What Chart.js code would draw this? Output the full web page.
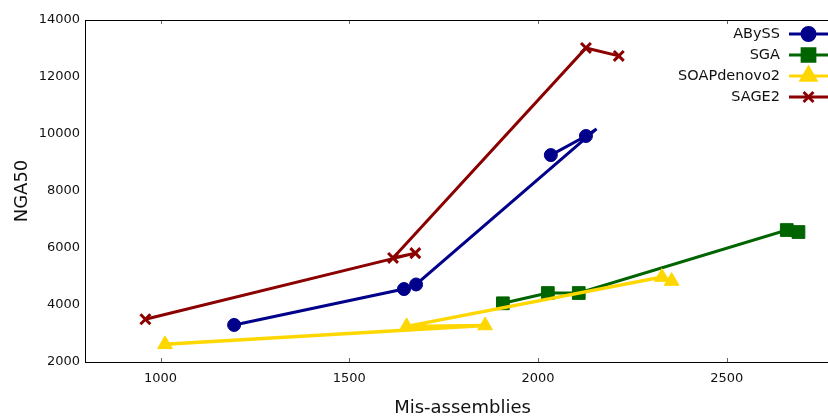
<!DOCTYPE html>
<html>
<head>
<meta charset="utf-8">
<script src="https://cdn.jsdelivr.net/npm/chart.js@4/dist/chart.umd.min.js"></script>
<style>
  body { margin: 0; overflow: hidden; background: #fff; }
  #wrap { width: 840px; height: 420px; }
  #myChart { width: 840px; height: 420px; }
</style>
</head>
<body>
<div id="wrap"><canvas id="myChart" width="840" height="420"></canvas></div>
<script>
// data (x = mis-assemblies, y = NGA50), in plotting order
var seriesNames = ['ABySS', 'SGA', 'SOAPdenovo2', 'SAGE2'];
var abyssX = [1195, 1645, 1677, 2155, 2127, 2034];
var abyssY = [3300, 4560, 4720, 10180, 9930, 9260];
var sgaX = [1907, 2026, 2108, 2659, 2690];
var sgaY = [4060, 4420, 4420, 6630, 6560];
var soapX = [1012, 1860, 1652, 2328, 2354];
var soapY = [2620, 3280, 3250, 4980, 4840];
var sage2X = [960, 1675, 1616, 2127, 2214];
var sage2Y = [3500, 5820, 5650, 13020, 12740];
var xTicks = [1000, 1500, 2000, 2500];
var yTicks = [2000, 4000, 6000, 8000, 10000, 12000, 14000];

var FONT = 'DejaVu Sans';

function pts(xs, ys) {
  return xs.map(function (x, i) { return { x: x, y: ys[i] }; });
}

// matplotlib-style frame with inward tick marks (right side falls past the window)
var framePlugin = {
  id: 'frame',
  afterDatasetsDraw: function (chart) {
    var ctx = chart.ctx, a = chart.chartArea;
    var xs = chart.scales.x;
    ctx.save();
    ctx.strokeStyle = '#666';
    ctx.lineWidth = 1;
    xTicks.forEach(function (v) {
      var px = Math.round(xs.getPixelForValue(v)) + 0.5;
      ctx.beginPath();
      ctx.moveTo(px, a.bottom); ctx.lineTo(px, a.bottom - 4);
      ctx.moveTo(px, a.top); ctx.lineTo(px, a.top + 4);
      ctx.stroke();
    });
    ctx.strokeStyle = '#000';
    ctx.strokeRect(Math.round(a.left) + 0.5, Math.round(a.top) + 0.5,
      Math.round(a.right - a.left), Math.round(a.bottom - a.top));
    ctx.restore();
  }
};

// legend: text first, then a line sample with its marker
var legendPlugin = {
  id: 'sideLegend',
  afterDraw: function (chart) {
    var ctx = chart.ctx;
    ctx.save();
    chart.data.datasets.forEach(function (ds, i) {
      var y = 34 + i * 21;
      ctx.fillStyle = '#111';
      ctx.font = '14.5px "' + FONT + '"';
      ctx.textAlign = 'right';
      ctx.textBaseline = 'middle';
      ctx.fillText(ds.label, 780, y);
      ctx.strokeStyle = ds.borderColor;
      ctx.lineWidth = 3;
      ctx.beginPath();
      ctx.moveTo(789, y); ctx.lineTo(830, y);
      ctx.stroke();
      ctx.fillStyle = ds.borderColor;
      Chart.helpers.drawPoint(ctx, {
        pointStyle: ds.pointStyle,
        radius: ds.legendRadius,
        borderWidth: ds.pointBorderWidth,
        rotation: 0
      }, 808.5, y);
    });
    ctx.restore();
  }
};

function plainTick(value) { return String(value); }

var ctx = document.getElementById('myChart').getContext('2d');

var myChart = new Chart(ctx, {
  type: 'scatter',
  data: {
    datasets: [{
      label: seriesNames[0],
      data: pts(abyssX, abyssY),
      borderColor: '#00008b',
      backgroundColor: '#00008b',
      pointStyle: 'circle',
      pointRadius: [6.5, 6.5, 6.5, 0, 6.5, 6.5],
      legendRadius: 6.5,
      pointBorderWidth: 1,
      order: 3
    }, {
      label: seriesNames[1],
      data: pts(sgaX, sgaY),
      borderColor: '#006400',
      backgroundColor: '#006400',
      pointStyle: 'rect',
      pointRadius: 9,
      legendRadius: 9,
      pointBorderWidth: 1,
      order: 2
    }, {
      label: seriesNames[2],
      data: pts(soapX, soapY),
      borderColor: '#ffd700',
      backgroundColor: '#ffd700',
      pointStyle: 'triangle',
      pointRadius: 8.5,
      legendRadius: 8.5,
      pointBorderWidth: 1,
      borderWidth: 3.5,
      order: 1
    }, {
      label: seriesNames[3],
      data: pts(sage2X, sage2Y),
      borderColor: '#8b0000',
      backgroundColor: '#8b0000',
      pointStyle: 'crossRot',
      pointRadius: 7,
      legendRadius: 7,
      pointBorderWidth: 3,
      order: 0
    }]
  },
  options: {
    responsive: false,
    animation: false,
    showLine: true,
    // canvas is wider than the window: the plot runs on past the right edge, like the original
    layout: { autoPadding: false, padding: { top: 20, right: 0, left: 0, bottom: 0 } },
    elements: {
      line: { borderWidth: 3, tension: 0, fill: false },
      point: { hoverRadius: 7 }
    },
    scales: {
      x: {
        type: 'linear',
        min: 800,
        max: 2800,
        afterBuildTicks: function (scale) {
          scale.ticks = xTicks.map(function (v) { return { value: v }; });
        },
        afterFit: function (scale) {
          scale.height = 58;
          scale.paddingLeft = 0;
          scale.paddingRight = 0;
        },
        grid: { display: false, drawTicks: false },
        border: { display: false },
        ticks: { color: '#111', padding: 9, callback: plainTick, font: { family: FONT, size: 13 } },
        title: {
          display: true,
          text: 'Mis-assemblies',
          color: '#111',
          padding: { top: 0, bottom: 1 },
          font: { family: FONT, size: 18 }
        }
      },
      y: {
        min: 2000,
        max: 14000,
        afterBuildTicks: function (scale) {
          scale.ticks = yTicks.map(function (v) { return { value: v }; });
        },
        afterFit: function (scale) {
          scale.width = 85;
          scale.paddingTop = 0;
          scale.paddingBottom = 0;
        },
        grid: { display: false, drawTicks: false },
        border: { display: false },
        ticks: { color: '#111', padding: 5, callback: plainTick, font: { family: FONT, size: 13 } },
        title: {
          display: true,
          text: 'NGA50',
          color: '#111',
          padding: { top: 12, bottom: 0 },
          font: { family: FONT, size: 18 }
        }
      }
    },
    plugins: {
      legend: { display: false },
      tooltip: { enabled: false }
    }
  },
  plugins: [framePlugin, legendPlugin]
});
</script>
</body>
</html>
